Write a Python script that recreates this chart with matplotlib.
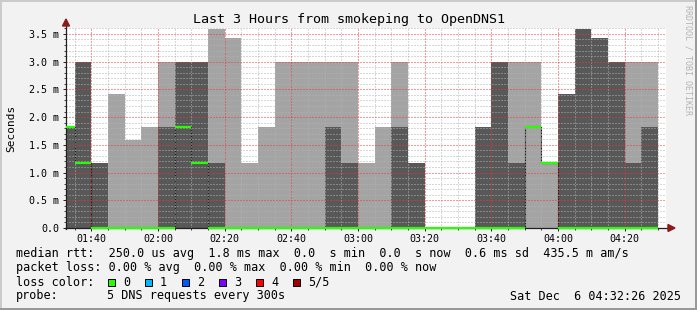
import numpy as np
import matplotlib
matplotlib.use("Agg")
import matplotlib.pyplot as plt
from matplotlib.transforms import Affine2D
from matplotlib.patches import Rectangle, Polygon
from matplotlib.lines import Line2D
from matplotlib.ticker import MultipleLocator, FuncFormatter

# ---------------- data ----------------
title = "Last 3 Hours from smokeping to OpenDNS1"
first_interval_min = 90          # 01:30, minutes since midnight
step_min = 5                     # 300 s steps
view_start_min = 92 + 26 / 60    # 01:32:26
view_end_min = 272 + 26 / 60     # 04:32:26

# sorted pings per interval (ms): p1 (lowest) .. p5 (highest)
ping1 = [0.0, 0.0, 0.0, 0.0, 0.0, 0.0, 0.0, 0.0, 0.0, 0.0, 0.0, 0.0,
         0.0, 0.0, 0.0, 0.0, 0.0, 0.0, 0.0, 0.0, 0.0, 0.0, 0.0, 0.0,
         0.0, 0.0, 0.0, 0.0, 0.0, 0.0, 0.0, 0.0, 0.0, 0.0, 0.0, 0.0]
ping2 = [0.0, 0.0, 0.0, 0.0, 0.0, 0.0, 0.0, 0.0, 0.0, 0.0, 0.0, 0.0,
         0.0, 0.0, 0.0, 0.0, 0.0, 0.0, 0.0, 0.0, 0.0, 0.0, 0.0, 0.0,
         0.0, 0.0, 0.0, 0.0, 1.83, 1.17, 0.0, 0.0, 0.0, 0.0, 0.0, 0.0]
median = [1.83, 1.17, 0.0, 0.0, 0.0, 0.0, 0.0, 1.83, 1.17, 0.0, 0.0, 0.0,
          0.0, 0.0, 0.0, 0.0, 0.0, 0.0, 0.0, 0.0, 0.0, 0.0, 0.0, 0.0,
          0.0, 0.0, 0.0, 0.0, 1.83, 1.17, 0.0, 0.0, 0.0, 0.0, 0.0, 0.0]
ping4 = [1.83, 3.0, 1.17, 0.0, 0.0, 0.0, 1.83, 3.0, 3.0, 1.17, 0.0, 0.0,
         0.0, 0.0, 0.0, 0.0, 1.83, 1.17, 0.0, 0.0, 1.83, 1.17, 0.0, 0.0,
         0.0, 1.83, 3.0, 1.17, 1.83, 1.17, 2.42, 3.58, 3.42, 3.0, 1.17, 1.83]
ping5 = [1.83, 3.0, 1.17, 2.42, 1.58, 1.83, 3.0, 3.0, 3.0, 3.58, 3.42, 1.17,
         1.83, 3.0, 3.0, 3.0, 3.0, 3.0, 1.17, 1.83, 3.0, 1.17, 0.0, 0.0,
         0.0, 1.83, 3.0, 3.0, 3.0, 1.17, 2.42, 3.58, 3.42, 3.0, 3.0, 3.0]

y_max = 3.607
y_ticks = [0.0, 0.5, 1.0, 1.5, 2.0, 2.5, 3.0, 3.5]

legend_rtt = "median rtt:  250.0 us avg  1.8 ms max  0.0  s min  0.0  s now  0.6 ms sd  435.5 m am/s"
legend_loss = "packet loss: 0.00 % avg  0.00 % max  0.00 % min  0.00 % now"
loss_labels = ["0", "1", "2", "3", "4", "5/5"]
loss_colors = ["#26ff00", "#00b8ff", "#0059ff", "#7e00ff", "#ff0000", "#a10000"]
probe_text = "5 DNS requests every 300s"
date_text = "Sat Dec  6 04:32:26 2025"

# ---------------- styling ----------------
W, H = 697, 310
BG = "#f2f2f2"
LIGHT = "#a4a4a4"
DARK = "#585858"
MONO = "DejaVu Sans Mono"

fig = plt.figure(figsize=(W / 100, H / 100), dpi=100, facecolor=BG)
pix = Affine2D().scale(1 / W, -1 / H).translate(0, 1) + fig.transFigure

x0, x1, ytop, ybot = 66, 666, 28, 228
ax = fig.add_axes([x0 / W, 1 - ybot / H, (x1 - x0) / W, (ybot - ytop) / H])
ax.set_facecolor("white")

n = len(ping5)
edges = first_interval_min + step_min * np.arange(n + 1)

ax.stairs(ping5, edges, baseline=ping1, fill=True, color=LIGHT, lw=0, zorder=1)
ax.stairs(ping4, edges, baseline=ping2, fill=True, color=DARK, lw=0, zorder=1.1)
ax.stairs(median, edges, baseline=None, color="#202020", lw=0.8, zorder=2)
seg_start = np.maximum(edges[:-1], view_start_min)
ax.hlines(median, seg_start, edges[1:], color="#26ff00", lw=1.6, zorder=6,
          clip_on=False)

ax.set_xlim(view_start_min, view_end_min)
ax.set_ylim(0, y_max)

ax.set_axisbelow(False)
ax.xaxis.set_major_locator(MultipleLocator(20))
ax.xaxis.set_minor_locator(MultipleLocator(5))
ax.set_yticks(y_ticks)
ax.yaxis.set_minor_locator(MultipleLocator(0.1))
ax.xaxis.set_major_formatter(FuncFormatter(lambda v, p: f"{int(v)//60:02d}:{int(v)%60:02d}"))
ax.yaxis.set_major_formatter(FuncFormatter(lambda v, p: "0.0" if v == 0 else f"{v:.1f} m"))

ax.grid(which="minor", color=(0.7, 0.7, 0.7, 0.5), ls=(0, (1, 2)), lw=0.72)
ax.grid(which="major", color=(0.95, 0.2, 0.2, 0.4), ls=(0, (1, 2)), lw=0.72)

for s in ax.spines.values():
    s.set_visible(False)
ax.tick_params(which="major", length=2, width=0.7, color="#202020",
               labelsize=7.2, labelfontfamily=MONO)
ax.tick_params(which="minor", length=1.2, width=0.6, color="#202020")
ax.tick_params(axis="y", which="major", pad=3.0)
ax.tick_params(axis="x", which="major", pad=2.4)

# axis lines with arrows (pixel coordinates)
axis_col = "#202020"
ax.add_line(Line2D([x0, x0], [ybot + 1, 25], transform=pix, color=axis_col, lw=0.9,
                   zorder=4, clip_on=False))
ax.add_line(Line2D([x0 - 1, 669], [ybot, ybot], transform=pix, color=axis_col, lw=0.9,
                   zorder=4, clip_on=False))
ax.add_patch(Polygon([[x0 - 3.5, 26], [x0 + 3.5, 26], [x0, 19]], closed=True,
                     transform=pix, color="#8b1a1a", zorder=7, clip_on=False))
ax.add_patch(Polygon([[668, ybot - 3.5], [668, ybot + 3.5], [675, ybot]], closed=True,
                     transform=pix, color="#8b1a1a", zorder=7, clip_on=False))

# title and labels
fig.text(349, 19, title, transform=pix, ha="center", va="center",
         fontsize=9.6, family=MONO)
fig.text(11, 128, "Seconds", transform=pix, ha="center", va="center",
         rotation=90, fontsize=8, family=MONO)
fig.text(688, 60, "RRDTOOL / TOBI OETIKER", transform=pix, ha="center", va="center",
         rotation=-90, fontsize=6, family=MONO, color="#b4b4b4")

# legend block
fs = 8.5
fig.text(16, 254, legend_rtt, transform=pix, ha="left", va="center", fontsize=fs, family=MONO)
fig.text(16, 268, legend_loss, transform=pix, ha="left", va="center", fontsize=fs, family=MONO)
fig.text(16, 282, "loss color:", transform=pix, ha="left", va="center", fontsize=fs, family=MONO)
for i, (lab, col) in enumerate(zip(loss_labels, loss_colors)):
    sx = 108 + 37 * i
    fig.patches.append(Rectangle((sx, 278.5), 7, 7, transform=pix, facecolor=col,
                                 edgecolor="black", lw=0.7))
    fig.text(sx + 15, 282, lab, transform=pix, ha="left", va="center", fontsize=fs, family=MONO)
fig.text(16, 296, "probe:", transform=pix, ha="left", va="center", fontsize=fs, family=MONO)
fig.text(107, 296, probe_text, transform=pix, ha="left", va="center", fontsize=fs, family=MONO)
fig.text(681, 296, date_text, transform=pix, ha="right", va="center", fontsize=fs, family=MONO)

# border shading
fig.patches.append(Rectangle((0, 0), W, 2, transform=pix, facecolor="#cbcbcb", lw=0))
fig.patches.append(Rectangle((0, 0), 2, H, transform=pix, facecolor="#cbcbcb", lw=0))
fig.patches.append(Rectangle((0, H - 2), W, 2, transform=pix, facecolor="#999999", lw=0))
fig.patches.append(Rectangle((W - 2, 0), 2, H, transform=pix, facecolor="#999999", lw=0))

fig.savefig("out.png", dpi=100, facecolor=BG)
